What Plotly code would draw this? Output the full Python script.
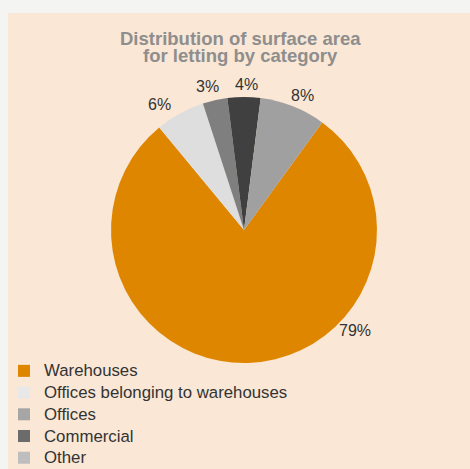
import math
import plotly.graph_objects as go

categories = ["Warehouses", "Offices belonging to warehouses", "Offices", "Commercial", "Other"]
values = [79, 6, 3, 4, 8]
slice_colors = ["#df8600", "#dedede", "#7f7f7f", "#404040", "#a0a0a0"]
legend_colors = ["#df8600", "#e8e8e8", "#a6a6a6", "#6b6b6b", "#bebebe"]
title_lines = ["Distribution of surface area", "for letting by category"]

W, H = 470, 469
FONT = "Liberation Sans, Arial, Helvetica, sans-serif"
TEXT_COLOR = "#333333"

# pie geometry (pixels)
CX, CY, R = 244, 230, 133
ROTATION = 36
# label placement relative to each slice's middle angle (degrees) and distance from centre (px)
LABEL_ANGLE_SHIFT = [-46, -5, -1.6, 0.8, 2]
LABEL_DIST = [150, 151, 148, 146, 147]

total = sum(values)
pct_text = [f"{round(v / total * 100)}%" for v in values]

fig = go.Figure()
fig.add_trace(go.Pie(
    labels=categories,
    values=values,
    sort=False,
    direction="clockwise",
    rotation=ROTATION,
    marker=dict(colors=slice_colors, line=dict(width=0)),
    textinfo="none",
    domain=dict(x=[(CX - R) / W, (CX + R) / W], y=[1 - (CY + R) / H, 1 - (CY - R) / H]),
    hoverinfo="label+percent",
    showlegend=False,
))

# legend entries (squares), same categories
for name, col in zip(categories, legend_colors):
    fig.add_trace(go.Scatter(
        x=[None], y=[None], mode="markers", name=f"<span style='font-size:16.8px'>{name}</span>",
        marker=dict(symbol="square", size=12, color=col, line=dict(width=0)),
        hoverinfo="skip",
    ))

# percentage labels around the pie
cum = 0
for i, v in enumerate(values):
    start = ROTATION + cum / total * 360
    mid = start + v / total * 360 / 2
    cum += v
    rad = math.radians(mid + LABEL_ANGLE_SHIFT[i])
    lx = CX + LABEL_DIST[i] * math.sin(rad)
    ly = CY - LABEL_DIST[i] * math.cos(rad)
    fig.add_annotation(
        text=pct_text[i], x=lx / W, y=1 - ly / H, xref="paper", yref="paper",
        showarrow=False, font=dict(family=FONT, size=16, color=TEXT_COLOR),
        xanchor="center", yanchor="middle",
    )

# title (two lines, tight spacing)
for line, ypx in zip(title_lines, [38, 55.5]):
    fig.add_annotation(
        text=f"<b>{line}</b>", x=240.5 / W, y=1 - ypx / H, xref="paper", yref="paper",
        showarrow=False, font=dict(family=FONT, size=18.5, color="#8e8e8e"),
        xanchor="center", yanchor="middle",
    )

fig.update_layout(
    width=W, height=H,
    margin=dict(l=0, r=0, t=0, b=0, autoexpand=False),
    paper_bgcolor="#f4f4f3",
    plot_bgcolor="rgba(0,0,0,0)",
    xaxis=dict(visible=False),
    yaxis=dict(visible=False),
    shapes=[dict(type="rect", xref="paper", yref="paper", x0=8 / W, x1=1, y0=0, y1=1 - 13 / H,
                 fillcolor="#fae7d5", line=dict(width=0), layer="below")],
    legend=dict(
        x=4 / W, y=1 - 355 / H, xanchor="left", yanchor="top",
        font=dict(family=FONT, size=14.4, color=TEXT_COLOR),
        bgcolor="rgba(0,0,0,0)", itemclick=False, tracegroupgap=0,
    ),
    showlegend=True,
)

fig.write_html("out.html")
